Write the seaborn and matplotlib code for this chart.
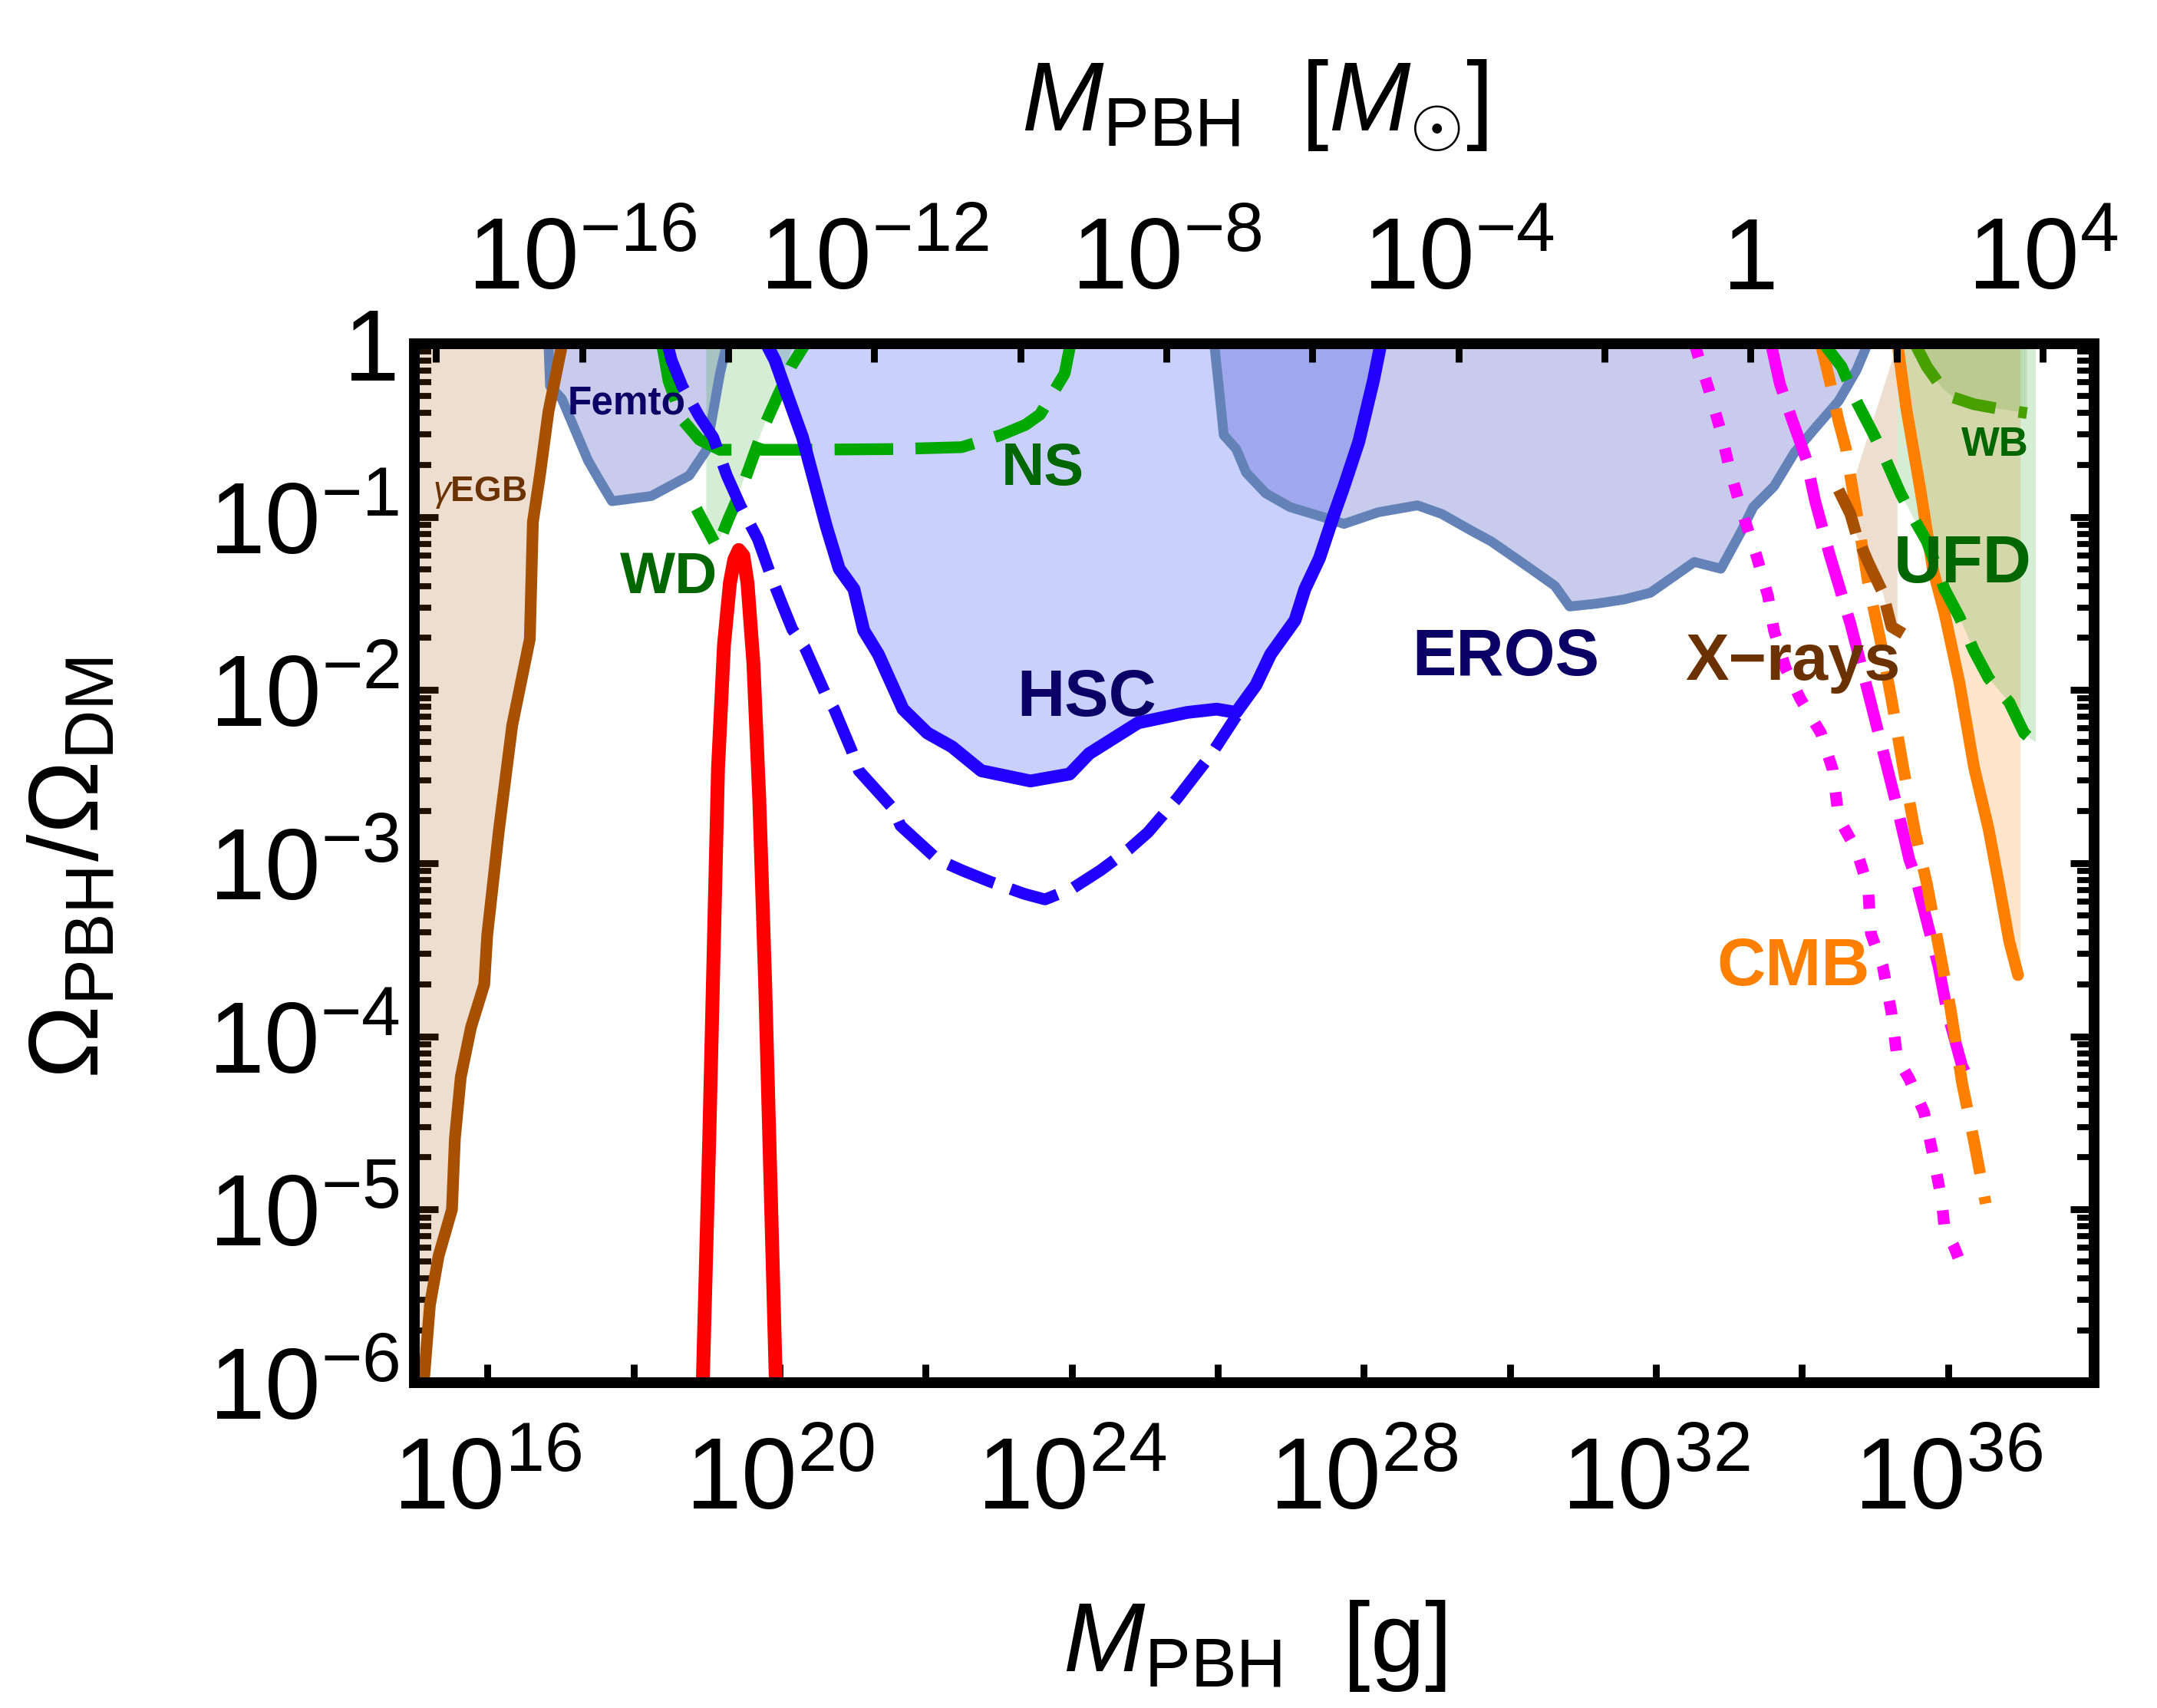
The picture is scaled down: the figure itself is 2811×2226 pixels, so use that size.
import numpy as np
import pandas as pd
import matplotlib
matplotlib.use("Agg")
import matplotlib.pyplot as plt
import seaborn as sns
from matplotlib.ticker import FixedLocator, FixedFormatter, LogLocator, NullFormatter, NullLocator

# ---------------- data: log10(M/g) and log10(f) ----------------
MSUN_G = 1.989e33
X_RANGE = [15, 38]
Y_RANGE = [-6, 0]

egb_logM = [15.132, 15.213, 15.332, 15.515, 15.555, 15.636, 15.775, 15.957, 15.998, 16.158, 16.340, 16.581, 16.623, 16.719, 16.836, 17.025]
egb_logf = [-5.979, -5.552, -5.268, -5.000, -4.590, -4.234, -3.949, -3.700, -3.415, -2.809, -2.204, -1.705, -1.029, -0.761, -0.392, 0.0]

femto_logM = [16.836, 16.858, 17.02, 17.377, 17.538, 17.706, 18.247, 18.764, 18.998, 19.092, 19.185, 19.279]
femto_logf = [0.0, -0.244, -0.318, -0.673, -0.791, -0.909, -0.879, -0.761, -0.614, -0.392, -0.171, 0.0]

eros_logM = [25.953, 26.021, 26.083, 26.253, 26.389, 26.657, 26.991, 27.462, 27.730, 28.198, 28.736, 29.070,
             29.477, 29.745, 30.283, 30.617, 30.819, 31.183, 31.560, 31.925, 32.528, 32.891, 33.174, 33.334,
             33.617, 33.900, 34.179, 34.504, 34.749, 34.900]
eros_logf = [0.0, -0.270, -0.527, -0.607, -0.743, -0.863, -0.943, -1.003, -1.040, -0.973, -0.933, -0.983,
             -1.080, -1.141, -1.298, -1.398, -1.517, -1.501, -1.477, -1.438, -1.260, -1.299, -1.080, -0.943,
             -0.824, -0.627, -0.488, -0.330, -0.151, 0.0]

hsc_logM = [19.821, 19.938, 20.126, 20.315, 20.455, 20.642, 20.817, 21.019, 21.153, 21.353, 21.691, 22.025,
            22.360, 22.764, 23.436, 23.972, 24.240, 24.911, 25.583, 25.985, 26.253, 26.523, 26.725, 27.060,
            27.194, 27.394, 27.596, 27.730, 27.932, 28.134, 28.234]
hsc_logf = [0.0, -0.095, -0.318, -0.540, -0.762, -1.056, -1.299, -1.417, -1.655, -1.793, -2.110, -2.248,
            -2.327, -2.466, -2.525, -2.485, -2.367, -2.189, -2.129, -2.110, -2.129, -1.972, -1.793, -1.596,
            -1.417, -1.238, -0.982, -0.823, -0.566, -0.210, 0.0]

hscd_logM = [18.466, 18.523, 18.668, 18.904, 19.092, 19.279, 19.466, 19.704, 19.891, 20.032, 20.174, 20.347,
             20.617, 20.749, 20.985, 21.087, 21.555, 21.657, 22.160, 22.504, 22.881, 23.353, 23.636, 24.013,
             24.400, 24.779, 25.045, 25.449, 25.919, 26.255]
hscd_logf = [0.0, -0.095, -0.245, -0.421, -0.540, -0.761, -0.937, -1.128, -1.350, -1.500, -1.648, -1.755,
             -2.011, -2.110, -2.347, -2.466, -2.684, -2.783, -2.977, -3.042, -3.106, -3.177, -3.209, -3.145,
             -3.040, -2.921, -2.822, -2.624, -2.367, -2.150]

red_logM = [18.94, 19.038, 19.098, 19.158, 19.240, 19.321, 19.381, 19.442, 19.504, 19.562, 19.643, 19.723, 19.804, 19.906, 19.96]
red_logf = [-6.15, -4.591, -3.522, -2.454, -1.739, -1.382, -1.247, -1.191, -1.223, -1.382, -1.847, -2.629, -3.699, -5.303, -6.15]

wdfill_logM = [18.998, 18.998, 19.145, 19.240, 19.466, 19.655, 19.938, 20.174, 20.192]
wdfill_logf = [0.0, -1.025, -1.152, -1.072, -0.834, -0.612, -0.318, -0.022, 0.0]

wd_logM = [18.862, 19.013, 19.145, 19.296, 19.485, 19.655, 19.806, 19.957, 20.164, 20.353]
wd_logf = [-0.953, -1.072, -1.176, -1.017, -0.834, -0.635, -0.461, -0.318, -0.127, 0.0]

ns_logM = [18.391, 18.481, 18.668, 18.904, 19.183, 20.240, 21.560, 22.494, 23.032, 23.368, 23.568, 23.730, 23.904, 23.985]
ns_logf = [0.0, -0.214, -0.437, -0.554, -0.612, -0.612, -0.608, -0.597, -0.527, -0.468, -0.408, -0.294, -0.172, 0.0]

mdot_logM = [32.528, 32.730, 32.891, 33.013, 33.174, 33.375, 33.536, 33.617, 33.777, 33.979, 34.260, 34.423, 34.504,
             34.749, 34.906, 34.945, 35.108, 35.226, 35.306, 35.470, 35.672, 35.792, 35.913, 35.953, 36.074, 36.234]
mdot_logf = [0.0, -0.270, -0.508, -0.726, -0.963, -1.220, -1.457, -1.655, -1.874, -2.051, -2.248, -2.462, -2.740,
             -2.925, -3.141, -3.406, -3.597, -3.862, -4.126, -4.246, -4.438, -4.678, -4.942, -5.110, -5.206, -5.375]

mdash_logM = [33.577, 33.698, 33.858, 34.060, 34.179, 34.381, 34.664, 34.906, 35.108, 35.309, 35.470, 35.549, 35.711, 35.872, 35.992, 36.194, 36.315]
mdash_logf = [0.0, -0.230, -0.429, -0.667, -0.904, -1.220, -1.616, -2.011, -2.347, -2.685, -2.977, -3.070, -3.334, -3.598, -3.862, -4.173, -4.270]

cmbd_logM = [34.260, 34.381, 34.504, 34.604, 34.664, 34.785, 34.906, 35.066, 35.226, 35.387, 35.549, 35.711, 35.872, 36.034, 36.194, 36.357, 36.517]
cmbd_logf = [0.0, -0.212, -0.449, -0.607, -0.766, -1.063, -1.378, -1.695, -2.051, -2.446, -2.820, -3.118, -3.477, -3.838, -4.270, -4.606, -4.966]

cmb_logM = [35.309, 35.428, 35.630, 35.792, 35.953, 36.155, 36.357, 36.557, 36.717, 36.840, 36.960]
cmb_logf = [0.0, -0.369, -0.863, -1.299, -1.557, -1.952, -2.445, -2.804, -3.165, -3.453, -3.646]
cmb_edge = 36.994

ufd_logM = [34.302, 34.543, 34.745, 34.987, 35.145, 35.349, 35.549, 35.711, 35.953, 36.155, 36.357, 36.557, 36.840, 37.042, 37.126]
ufd_logf = [0.0, -0.132, -0.330, -0.527, -0.666, -0.863, -1.022, -1.141, -1.417, -1.577, -1.774, -1.932, -2.071, -2.248, -2.280]
ufd_band = [35.309, 37.202]
ufd_bottom = -2.30

wb_logM = [35.549, 35.711, 35.913, 36.074, 36.357, 36.758, 37.081]
wb_logf = [0.0, -0.132, -0.251, -0.310, -0.349, -0.380, -0.400]

xr_logM = [34.502, 34.664, 34.745, 34.906, 35.108, 35.226, 35.387]
xr_logf = [-0.844, -0.983, -1.102, -1.260, -1.438, -1.634, -1.674]
xr_band = [34.604, 35.309]

bottom_tick_exp = list(range(16, 38, 2))
bottom_label_exp = [16, 20, 24, 28, 32, 36]
top_tick_exp = list(range(-18, 6, 2))
top_label_exp = [-16, -12, -8, -4, 0, 4]
y_tick_exp = list(range(-6, 1))

# labels: text, logM, logf(baseline), color, size
labels = [
    (r"$\gamma$EGB", 15.898, -0.909, "#6B3200", 16.5),
    ("Femto", 17.91, -0.405, "#0B0066", 18.5),
    ("WD", 18.481, -1.440, "#006600", 27.5),
    ("NS", 23.602, -0.814, "#006600", 28),
    ("HSC", 24.208, -2.149, "#0B0066", 31),
    ("EROS", 29.94, -1.913, "#0B0066", 31),
    ("X\u2212rays", 33.878, -1.942, "#6B3200", 30.5),
    ("UFD", 36.196, -1.379, "#006600", 31.5),
    ("WB", 36.647, -0.647, "#006600", 19),
    ("CMB", 33.879, -3.706, "#FF8000", 31.5),
]

# ---------------- style ----------------
sns.set_theme(style="ticks")
plt.rcParams["font.family"] = ["Liberation Sans", "DejaVu Sans"]
plt.rcParams["mathtext.fontset"] = "custom"
plt.rcParams["mathtext.rm"] = "Liberation Sans"
plt.rcParams["mathtext.it"] = "Liberation Sans:italic"
plt.rcParams["mathtext.bf"] = "Liberation Sans:bold"
plt.rcParams["text.color"] = "black"

fig = plt.figure(figsize=(14.055, 11.13), dpi=200)
ax = fig.add_axes([0.1921, 0.1905, 0.7787, 0.6082])
ax.set_xscale("log")
ax.set_yscale("log")


def pw(v):
    return np.power(10.0, np.asarray(v, dtype=float))


def curve(lm, lf, color, lw, dash=None, z=3):
    df = pd.DataFrame({"M": pw(lm), "f": pw(lf)})
    ls = "-" if dash is None else (0, dash)
    sns.lineplot(data=df, x="M", y="f", ax=ax, color=color, linewidth=lw, linestyle=ls,
                 sort=False, estimator=None, zorder=z, legend=False)


def region(lm, lf, color, alpha, z=1):
    ax.fill(pw(lm), pw(lf), color=color, alpha=alpha, lw=0, zorder=z)


# ---------------- fills ----------------
region(egb_logM + [X_RANGE[0], X_RANGE[0]], egb_logf + [0, Y_RANGE[0]], "#A65000", 0.19)
region(femto_logM, femto_logf, "#4B55BE", 0.30)
region(eros_logM, eros_logf, "#4B55BE", 0.30)
region(hsc_logM, hsc_logf, "#1E3CF0", 0.24)
region(wdfill_logM, wdfill_logf, "#009600", 0.17)

xr_in = [(m, f) for m, f in zip(xr_logM, xr_logf) if xr_band[0] < m < xr_band[1]]
region([xr_band[0]] + [p[0] for p in xr_in] + [xr_band[1], xr_band[1]],
       [np.interp(xr_band[0], xr_logM, xr_logf)] + [p[1] for p in xr_in]
       + [np.interp(xr_band[1], xr_logM, xr_logf), 0.0],
       "#A65000", 0.19)

region(cmb_logM + [cmb_edge, cmb_edge], cmb_logf + [cmb_logf[-1], 0.0], "#FF8000", 0.20)

ufd_in = [(m, f) for m, f in zip(ufd_logM, ufd_logf) if m > ufd_band[0]]
region([ufd_band[0], ufd_band[0]] + [p[0] for p in ufd_in] + [ufd_band[1], ufd_band[1]],
       [0.0, np.interp(ufd_band[0], ufd_logM, ufd_logf)] + [p[1] for p in ufd_in] + [ufd_bottom, 0.0],
       "#009600", 0.17)
region(wb_logM + [wb_logM[-1]], wb_logf + [0.0], "#2E8A00", 0.15)

# ---------------- outlines and lines ----------------
curve(femto_logM, femto_logf, "#6383B8", 4.6, z=2)
curve(eros_logM, eros_logf, "#6383B8", 4.6, z=2)
curve(egb_logM, egb_logf, "#A65000", 5.5)
curve(ns_logM, ns_logf, "#00A800", 5.5, dash=(5.0, 1.9))
curve(wd_logM, wd_logf, "#00A800", 5.5, dash=(3.2, 1.9))
curve(hsc_logM, hsc_logf, "#2200FF", 6.0, z=4)
curve(hscd_logM, hscd_logf, "#2200FF", 5.5, dash=(4.2, 1.5), z=4)
curve(red_logM, red_logf, "#FF0000", 6.5, z=5)
curve(mdot_logM, mdot_logf, "#FF00FF", 5.5, dash=(1.2, 1.9))
curve(mdash_logM, mdash_logf, "#FF00FF", 5.5, dash=(4.3, 1.7))
curve(cmbd_logM, cmbd_logf, "#FF8000", 5.5, dash=(3.7, 2.0))
curve(cmb_logM, cmb_logf, "#FF8000", 5.5)
curve(ufd_logM, ufd_logf, "#00A800", 5.5, dash=(3.7, 2.0))
curve(wb_logM, wb_logf, "#48A000", 5.5, dash=(3.7, 2.0))
curve(xr_logM, xr_logf, "#A65000", 5.5, dash=(4.0, 1.3))

for txt, lm, lf, col, fs in labels:
    ax.text(10.0 ** lm, 10.0 ** lf, txt, color=col, fontsize=fs, fontweight="bold",
            ha="center", va="baseline", zorder=6)

# ---------------- axes ----------------
ax.set_xlim(10.0 ** X_RANGE[0], 10.0 ** X_RANGE[1])
ax.set_ylim(10.0 ** Y_RANGE[0], 10.0 ** Y_RANGE[1])
ax.set_xlabel("")
ax.set_ylabel("")

ax.xaxis.set_major_locator(FixedLocator(pw(bottom_tick_exp)))
ax.xaxis.set_major_formatter(FixedFormatter(
    [rf"$10^{{{e}}}$" if e in bottom_label_exp else "" for e in bottom_tick_exp]))
ax.xaxis.set_minor_locator(NullLocator())

ax.yaxis.set_major_locator(FixedLocator(pw(y_tick_exp)))
ax.yaxis.set_major_formatter(FixedFormatter(
    ["1" if e == 0 else rf"$10^{{{e}}}$" for e in y_tick_exp]))
ax.yaxis.set_minor_locator(LogLocator(base=10, subs=np.arange(2, 10), numticks=100))
ax.yaxis.set_minor_formatter(NullFormatter())

for sp in ax.spines.values():
    sp.set_linewidth(5)
    sp.set_color("black")
    sp.set_zorder(10)

ax.tick_params(axis="x", which="major", direction="in", length=8.5, width=3.2, bottom=True, top=False,
               labelsize=47, pad=25, color="black", labelcolor="black")
ax.tick_params(axis="y", which="major", direction="in", length=11, width=3.2, left=True, right=True,
               labelsize=47, pad=7, color="black", labelcolor="black")
ax.tick_params(axis="y", which="minor", direction="in", length=8, width=2.8, left=True, right=True,
               color="black")

ax2 = ax.twiny()
ax2.set_xscale("log")
ax2.set_xlim(10.0 ** X_RANGE[0] / MSUN_G, 10.0 ** X_RANGE[1] / MSUN_G)
ax2.xaxis.set_major_locator(FixedLocator(pw(top_tick_exp)))
ax2.xaxis.set_major_formatter(FixedFormatter(
    [("1" if e == 0 else rf"$10^{{{e}}}$") if e in top_label_exp else "" for e in top_tick_exp]))
ax2.xaxis.set_minor_locator(NullLocator())
ax2.tick_params(axis="x", which="major", direction="in", length=8.5, width=3.2, top=True,
                labelsize=47, pad=16, color="black", labelcolor="black")
for sp in ax2.spines.values():
    sp.set_linewidth(5)
    sp.set_color("black")

fig.text(0.5816, 0.0216, r"$M_{\rm PBH}\ \ [{\rm g}]$", fontsize=46, ha="center", va="baseline",
         color="black")
fig.text(0.5816, 0.9236, r"$M_{\rm PBH}\ \ [M_{\odot}]$", fontsize=46, ha="center", va="baseline",
         color="black")
fig.text(0.034, 0.492, r"$\Omega_{\rm PBH}/\Omega_{\rm DM}$", fontsize=46, ha="center", va="center",
         rotation=90, color="black")

fig.savefig("out.png", dpi=200)
